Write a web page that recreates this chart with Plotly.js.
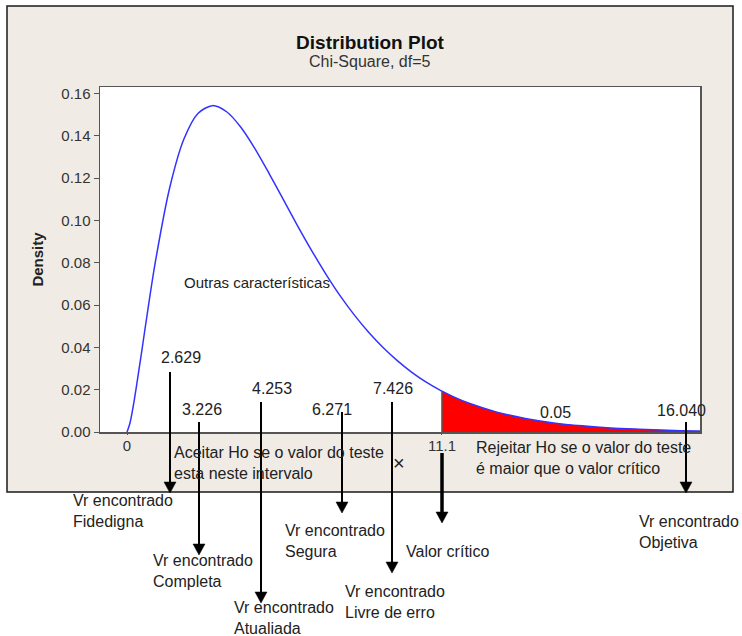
<!DOCTYPE html>
<html>
<head>
<meta charset="utf-8">
<script src="https://cdn.plot.ly/plotly-3.0.1.min.js"></script>
<style>html,body{margin:0;padding:0;background:#fff;}#chart{width:742px;height:636px;}</style>
</head>
<body>
<div id="chart"></div>
<script>
// ---- data ----
const chiX = [0, 0.1, 0.25, 0.5, 0.75, 1, 1.5, 2, 2.5, 3, 3.5, 4, 4.5, 5, 5.5, 6, 6.5, 7, 7.5, 8, 8.5, 9, 9.5, 10, 10.5, 11, 11.07, 11.5, 12, 13, 14, 15, 16, 17, 18, 19, 20, 20.2];
const chiDensity = [0, 0.0040, 0.0147, 0.0366, 0.0594, 0.0807, 0.1154, 0.1384, 0.1506, 0.1542, 0.1513, 0.1440, 0.1338, 0.1220, 0.1097, 0.0973, 0.0855, 0.0744, 0.0642, 0.0551, 0.0470, 0.0399, 0.0337, 0.0283, 0.0237, 0.0198, 0.0193, 0.0165, 0.0137, 0.0094, 0.0064, 0.0043, 0.0029, 0.0019, 0.0013, 0.0008, 0.0005, 0.0005];
const criticalValue = 11.07;
const criticalLabel = "11.1";
const alphaLabel = "0.05";
const yTicks = [0, 0.02, 0.04, 0.06, 0.08, 0.10, 0.12, 0.14, 0.16];
const foundValues = ["2.629", "3.226", "4.253", "6.271", "7.426", "16.040"];
const criteria = ["Fidedigna", "Completa", "Atualiada", "Segura", "Livre de erro", "Objetiva"];

// ---- geometry helpers (pixel -> paper) ----
const L = 100, R = 700, T = 87, B = 432;
const px = x => (x - L) / (R - L);
const py = y => (B - y) / (B - T);

const tailX = [], tailY = [];
chiX.forEach((x, i) => { if (x >= criticalValue) { tailX.push(x); tailY.push(chiDensity[i]); } });

const traces = [
  {x: tailX, y: tailY, type: 'scatter', mode: 'lines', fill: 'tozeroy', fillcolor: '#ff0000',
   line: {color: '#ff0000', width: 0}, hoverinfo: 'skip', showlegend: false},
  {x: [criticalValue, criticalValue], y: [0, tailY[0]], type: 'scatter', mode: 'lines',
   line: {color: '#555555', width: 1.5}, hoverinfo: 'skip', showlegend: false},
  {x: chiX, y: chiDensity, type: 'scatter', mode: 'lines',
   line: {color: '#3333ff', width: 1.5, shape: 'spline', smoothing: 0.8}, showlegend: false}
];

const shapes = [
  {type: 'rect', xref: 'paper', yref: 'paper', x0: px(7), x1: px(733), y0: py(492), y1: py(6),
   fillcolor: '#f0ece5', line: {color: '#1a1a1a', width: 1.5}, layer: 'below'},
  {type: 'rect', xref: 'paper', yref: 'paper', x0: 0, x1: 1, y0: 0, y1: 1,
   fillcolor: '#ffffff', line: {width: 0}, layer: 'below'}
];

// arrows: [x, yStart, yTip, width]
const arrowSpecs = [
  [170, 372, 493, 2], [199, 422, 555, 2], [261, 402, 603, 2],
  [342, 412, 513, 2], [392, 402, 573, 2], [442, 453, 523, 3.5], [686, 422, 493, 2]
];
arrowSpecs.forEach(([x, y0, y1, w]) => {
  shapes.push({type: 'line', xref: 'paper', yref: 'paper', x0: px(x), x1: px(x), y0: py(y0), y1: py(y1 - 10),
    line: {color: '#000', width: w}, layer: 'above'});
  shapes.push({type: 'path', xref: 'paper', yref: 'paper',
    path: `M${px(x - 6)},${py(y1 - 11)} L${px(x + 6)},${py(y1 - 11)} L${px(x)},${py(y1)} Z`,
    fillcolor: '#000', line: {color: '#000', width: 0.5}, layer: 'above'});
});

const F = 'Liberation Sans, Arial, sans-serif';
const ann = (text, x, y, opts = {}) => Object.assign({
  text, xref: 'paper', yref: 'paper', x: px(x), y: py(y), showarrow: false,
  xanchor: 'center', yanchor: 'middle', align: 'left',
  font: {family: F, size: 16, color: '#222'}
}, opts);

const annotations = [
  ann('Chi-Square, df=5', 370, 62, {font: {family: F, size: 16, color: '#333'}}),
  ann('Outras características', 182, 282, {xanchor: 'left', font: {family: F, size: 15, color: '#222'}}),
  ann(foundValues[0], 181, 357),
  ann(foundValues[1], 202, 409),
  ann(foundValues[2], 272, 388),
  ann(foundValues[3], 332, 409),
  ann(foundValues[4], 393, 388),
  ann(foundValues[5], 681, 410),
  ann(alphaLabel, 555, 412),
  ann('Aceitar Ho se o valor do teste<br>esta neste intervalo', 172, 463, {xanchor: 'left'}),
  ann('Rejeitar Ho se o valor do teste<br>é maior que o valor crítico', 474, 458, {xanchor: 'left'}),
  ann('×', 399, 463, {font: {family: F, size: 20, color: '#222'}}),
  ann('Vr encontrado<br>' + criteria[0], 71, 510.5, {xanchor: 'left'}),
  ann('Vr encontrado<br>' + criteria[1], 151, 571, {xanchor: 'left'}),
  ann('Vr encontrado<br>' + criteria[2], 232, 618, {xanchor: 'left'}),
  ann('Vr encontrado<br>' + criteria[3], 283, 540.5, {xanchor: 'left'}),
  ann('Vr encontrado<br>' + criteria[4], 343, 601.5, {xanchor: 'left'}),
  ann('Valor crítico', 404, 551, {xanchor: 'left'}),
  ann('Vr encontrado<br>' + criteria[5], 637, 532, {xanchor: 'left'})
];

const layout = {
  width: 742, height: 636,
  margin: {l: L, r: 742 - R, t: T, b: 636 - B, pad: 0},
  paper_bgcolor: '#ffffff', plot_bgcolor: '#ffffff',
  showlegend: false,
  title: {text: '<b>Distribution Plot</b>', x: 370 / 742, xanchor: 'center', y: 1 - 42 / 636, yanchor: 'middle',
          font: {family: F, size: 19, color: '#111'}},
  xaxis: {range: [-0.95, 20.14], tickvals: [0, criticalValue], ticktext: ['0', criticalLabel],
          ticks: 'outside', ticklen: 1, tickcolor: '#555', ticklabelstandoff: -2,
          showline: true, linecolor: '#555', linewidth: 1.5,
          mirror: true, showgrid: false, zeroline: false,
          tickfont: {family: F, size: 15, color: '#333'}},
  yaxis: {range: [0, 0.163], tickvals: yTicks, tickformat: '.2f',
          ticks: 'outside', ticklen: 5, tickcolor: '#555', showline: true, linecolor: '#555', linewidth: 1.5,
          mirror: true, showgrid: false, zeroline: false,
          tickfont: {family: F, size: 15, color: '#333'},
          title: {text: '<b>Density</b>', font: {family: F, size: 15, color: '#222'}, standoff: 14}},
  shapes, annotations
};

Plotly.newPlot('chart', traces, layout, {staticPlot: true, displayModeBar: false});
</script>
</body>
</html>
